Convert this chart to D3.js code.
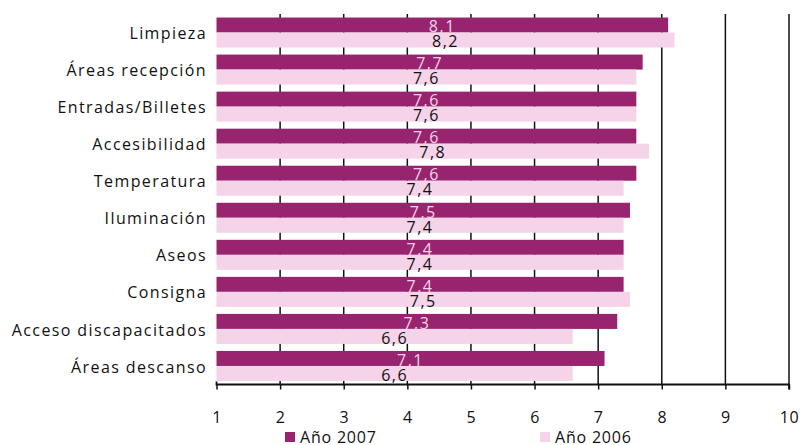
<!DOCTYPE html>
<html><head><meta charset="utf-8">
<script src="https://cdn.jsdelivr.net/npm/d3@7"></script>
<style>body{margin:0;background:#fff}svg{display:block}text{font-family:"Open Sans","DejaVu Sans",sans-serif}</style>
</head><body><svg id="c" width="801" height="445"></svg>
<script>
const categories = ["Limpieza","Áreas recepción","Entradas/Billetes","Accesibilidad","Temperatura","Iluminación","Aseos","Consigna","Acceso discapacitados","Áreas descanso"];
const values2007 = [8.1,7.7,7.6,7.6,7.6,7.5,7.4,7.4,7.3,7.1];
const values2006 = [8.2,7.6,7.6,7.8,7.4,7.4,7.4,7.5,6.6,6.6];
const seriesNames = ["Año 2007","Año 2006"];
const xTicks = [1,2,3,4,5,6,7,8,9,10];
const colors = ["#98246F","#F5D3E8"];

const svg = d3.select("#c");
const mL = 216.5, mR = 789, mT = 14, mB = 384.5;
const x = d3.scaleLinear().domain([1,10]).range([mL,mR]);
const y = d3.scaleBand().domain(categories).range([mT,mB]).paddingInner(0.19).paddingOuter(0.095);
const sub = d3.scaleBand().domain(seriesNames).range([0,y.bandwidth()]);
const fmt = v => d3.format(".1f")(v).replace(".", ",");

// gridlines
svg.append("g").selectAll("line").data(xTicks.slice(1)).join("line")
  .attr("x1",d=>x(d)).attr("x2",d=>x(d)).attr("y1",mT).attr("y2",mB)
  .attr("stroke","#111").attr("stroke-width",1.5);

const data = categories.map((c,i)=>({c, vals:[values2007[i],values2006[i]]}));
const g = svg.append("g").selectAll("g").data(data).join("g")
  .attr("transform",d=>`translate(0,${y(d.c)})`);
g.selectAll("rect").data(d=>d.vals.map((v,j)=>({v,s:seriesNames[j],j}))).join("rect")
  .attr("x",x(1)).attr("y",d=>sub(d.s)).attr("width",d=>x(d.v)-x(1)).attr("height",sub.bandwidth())
  .attr("fill",d=>colors[d.j]);
g.selectAll("text.v").data(d=>d.vals.map((v,j)=>({v,s:seriesNames[j],j}))).join("text")
  .attr("class","v")
  .attr("x",d=>(x(1)+x(d.v))/2).attr("y",d=>sub(d.s)+sub.bandwidth()/2+1.5)
  .attr("dy","0.36em").attr("text-anchor","middle")
  .attr("font-size",16).attr("letter-spacing",1.5)
  .attr("fill",d=>d.j===0?"#F5D3E8":"#111").text(d=>fmt(d.v));

// category labels
svg.append("g").selectAll("text").data(categories).join("text")
  .attr("x",207).attr("y",d=>y(d)+y.bandwidth()/2+1).attr("dy","0.35em")
  .attr("text-anchor","end").attr("font-size",16).attr("letter-spacing",1.4).attr("fill","#111").text(d=>d);

// x axis
const ax = svg.append("g").attr("transform",`translate(0,${mB})`)
  .call(d3.axisBottom(x).tickValues(xTicks).tickSize(5).tickPadding(22).tickFormat(d3.format("d")));
ax.select(".domain").attr("stroke","#111").attr("stroke-width",1.8).attr("d",`M${mL},-3V0H${mR}V5`);
ax.selectAll(".tick line").attr("stroke","#111").attr("stroke-width",1.5);
ax.selectAll(".tick text").attr("font-size",16).attr("fill","#111").attr("font-family","Open Sans").attr("letter-spacing",0.5);

// legend
const leg = [{n:seriesNames[0],c:colors[0],x:285},{n:seriesNames[1],c:colors[1],x:540}];
const lg = svg.append("g").selectAll("g").data(leg).join("g").attr("transform",d=>`translate(${d.x},432)`);
lg.append("rect").attr("width",10).attr("height",10).attr("fill",d=>d.c);
lg.append("text").attr("x",15).attr("y",5).attr("dy","0.36em").attr("font-size",16).attr("letter-spacing",0.8).attr("fill","#111").text(d=>d.n);
</script></body></html>
